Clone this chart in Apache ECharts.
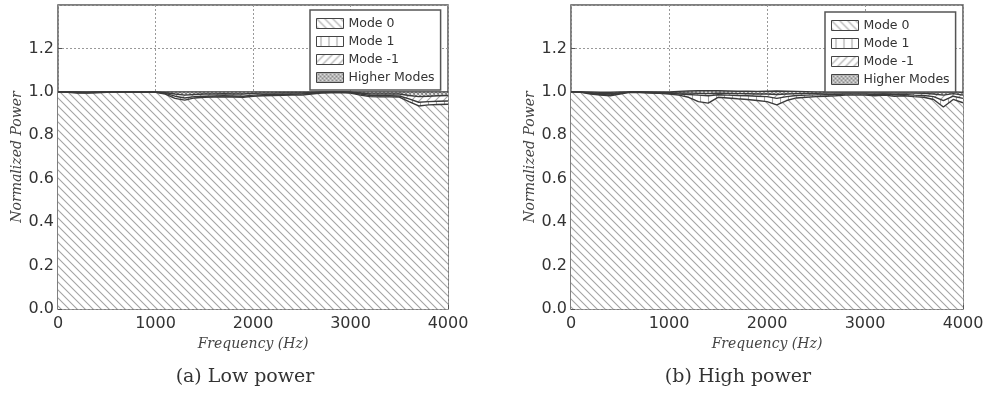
<!DOCTYPE html>
<html><head><meta charset="utf-8">
<script src="https://cdn.jsdelivr.net/npm/echarts@6/dist/echarts.min.js"></script>
<style>html,body{margin:0;padding:0;background:#fff}#c{width:987px;height:406px}</style>
</head><body><div id="c"></div>
<script>
// ---- data ----
const freq = [0,100,200,300,400,500,600,700,800,900,1000,1100,1200,1300,1400,1500,1600,1700,1800,1900,2000,2100,2200,2300,2400,2500,2600,2700,2800,2900,3000,3100,3200,3300,3400,3500,3600,3700,3800,3900,4000];
const seriesNames = ['Mode 0','Mode 1','Mode -1','Higher Modes'];
const xTicks = [0,1000,2000,3000,4000];
const yTicks = [0.0,0.2,0.4,0.6,0.8,1.0,1.2];
const captions = ['(a) Low power','(b) High power'];

// Low power
const lowMode0 = [1.0,0.998,0.995,0.994,0.996,0.998,1.0,0.999,0.998,0.998,0.998,0.99,0.97,0.962,0.972,0.975,0.976,0.977,0.976,0.975,0.98,0.982,0.983,0.984,0.985,0.985,0.99,0.995,0.996,0.997,0.995,0.985,0.978,0.977,0.977,0.976,0.955,0.935,0.94,0.942,0.943];
const lowMode1 = [0,0.001,0.002,0.002,0.002,0.001,0,0.001,0.001,0.001,0.001,0.003,0.010,0.010,0.006,0.005,0.005,0.005,0.005,0.005,0.005,0.005,0.005,0.004,0.004,0.005,0.003,0.002,0.002,0.001,0.002,0.005,0.005,0.005,0.005,0.005,0.013,0.017,0.015,0.015,0.015];
const lowModeM1 = [0,0.001,0.002,0.002,0.001,0.001,0,0,0.001,0.001,0.001,0.003,0.010,0.013,0.010,0.010,0.009,0.009,0.009,0.010,0.008,0.007,0.006,0.007,0.006,0.005,0.004,0.002,0.001,0.001,0.002,0.005,0.007,0.008,0.008,0.009,0.015,0.026,0.025,0.025,0.025];
const lowHigher = [0,0,0.001,0.002,0.001,0,0,0,0,0,0,0.004,0.010,0.015,0.012,0.010,0.010,0.009,0.010,0.010,0.007,0.006,0.006,0.005,0.005,0.005,0.003,0.001,0.001,0.001,0.001,0.005,0.010,0.010,0.010,0.010,0.017,0.022,0.020,0.018,0.017];

// High power
const highMode0 = [1.0,0.998,0.99,0.985,0.982,0.99,0.998,0.997,0.995,0.993,0.99,0.985,0.975,0.955,0.948,0.975,0.972,0.968,0.965,0.96,0.955,0.94,0.96,0.972,0.975,0.978,0.98,0.982,0.985,0.985,0.985,0.982,0.985,0.98,0.982,0.978,0.975,0.965,0.93,0.965,0.95];
const highMode1 = [0,0.001,0.003,0.003,0.004,0.003,0.001,0.001,0.002,0.002,0.003,0.005,0.013,0.030,0.034,0.012,0.013,0.015,0.017,0.020,0.023,0.030,0.018,0.011,0.010,0.008,0.007,0.006,0.005,0.005,0.005,0.006,0.005,0.007,0.006,0.007,0.008,0.013,0.030,0.015,0.020];
const highModeM1 = [0,0.001,0.003,0.004,0.005,0.003,0.001,0.001,0.001,0.002,0.003,0.005,0.006,0.008,0.010,0.007,0.008,0.009,0.009,0.010,0.012,0.018,0.012,0.009,0.008,0.007,0.007,0.007,0.006,0.006,0.006,0.007,0.006,0.007,0.007,0.009,0.010,0.012,0.025,0.012,0.015];
const highHigher = [0,0,0.003,0.006,0.007,0.004,0,0.001,0.002,0.003,0.004,0.007,0.010,0.012,0.013,0.011,0.011,0.011,0.012,0.012,0.013,0.016,0.013,0.010,0.008,0.007,0.006,0.005,0.004,0.004,0.004,0.005,0.004,0.006,0.005,0.006,0.007,0.010,0.014,0.008,0.013];

// ---- hatch patterns ----
function makePattern(kind){
  const s = kind === 'x' ? 4 : 8;
  const c = document.createElement('canvas');
  c.width = s; c.height = s;
  const g = c.getContext('2d');
  g.fillStyle = '#fff'; g.fillRect(0,0,s,s);
  g.strokeStyle = kind === 'x' ? '#888' : '#a4a4a4';
  g.lineWidth = 1.1;
  g.beginPath();
  if (kind === '\\' || kind === 'x') {
    g.moveTo(-1,-1); g.lineTo(s+1,s+1);
    g.moveTo(-1,s-1); g.lineTo(1,s+1);
    g.moveTo(s-1,-1); g.lineTo(s+1,1);
  }
  if (kind === '/' || kind === 'x') {
    g.moveTo(-1,s+1); g.lineTo(s+1,-1);
    g.moveTo(-1,1); g.lineTo(1,-1);
    g.moveTo(s-1,s+1); g.lineTo(s+1,s-1);
  }
  if (kind === '|') {
    g.moveTo(s/2+0.5,0); g.lineTo(s/2+0.5,s);
  }
  g.stroke();
  return {image: c, repeat: 'repeat'};
}
const patterns = [makePattern('\\'), makePattern('|'), makePattern('/'), makePattern('x')];

const lowData = [lowMode0, lowMode1, lowModeM1, lowHigher];
const highData = [highMode0, highMode1, highModeM1, highHigher];

const grids = [
  {left:58, right:539, top:5, bottom:97},
  {left:571, right:24, top:5, bottom:97}
];
const tickFont = {fontFamily:'DejaVu Sans', fontSize:16, color:'#333'};
const nameFont = {fontFamily:'DejaVu Serif', fontStyle:'italic', fontSize:14, color:'#444'};
const isTick = (idx, val) => xTicks.indexOf(Number(val)) >= 0;

function xAx(i){
  return {type:'category', gridIndex:i, data:freq.map(String), boundaryGap:false,
    name:'Frequency (Hz)', nameLocation:'middle', nameGap:20, nameTextStyle:nameFont,
    axisLine:{show:false},
    axisTick:{show:true, inside:true, length:4, interval:isTick, lineStyle:{color:'#555'}},
    axisLabel:Object.assign({margin:7, interval:isTick, showMaxLabel:true}, tickFont),
    splitLine:{show:true, interval:isTick, lineStyle:{color:'#999', type:[2,2], width:1}}};
}
function yAx(i){
  return {type:'value', gridIndex:i, min:0, max:1.4, interval:0.2,
    name:'Normalized Power', nameLocation:'middle', nameGap:33, nameTextStyle:nameFont,
    axisLine:{show:false}, axisTick:{show:true, inside:true, length:4, lineStyle:{color:'#555'}},
    axisLabel:Object.assign({margin:4, showMaxLabel:false, formatter:v=>v.toFixed(1)}, tickFont),
    splitLine:{show:true, lineStyle:{color:'#999', type:[2,2], width:1}}};
}

const series = [];
[lowData, highData].forEach((set, gi) => {
  set.forEach((vals, k) => {
    series.push({
      type:'line', name:seriesNames[k], xAxisIndex:gi, yAxisIndex:gi, stack:'s'+gi,
      data: vals,
      showSymbol:false, symbol:'none', smooth:false,
      lineStyle:{color:'#3a3a3a', width:1.4},
      itemStyle:{color:'#3a3a3a'},
      areaStyle:{color:patterns[k], opacity:1},
      z: 2, silent:true, animation:false
    });
  });
});

const legendData = seriesNames.map((n,k)=>({name:n, icon:'rect',
  itemStyle:{color:patterns[k], borderColor:'#444', borderWidth:1}}));
function legend(left, top){
  return {show:true, left:left, top:top, orient:'vertical', data:legendData,
    itemWidth:27, itemHeight:10, itemGap:5, padding:[7,6,6,6],
    backgroundColor:'#fff', borderColor:'#555', borderWidth:1.5,
    textStyle:{fontFamily:'DejaVu Sans', fontSize:12.5, color:'#333'},
    selectedMode:false};
}

const chart = echarts.init(document.getElementById('c'), null, {renderer:'canvas'});
chart.setOption({
  animation:false,
  backgroundColor:'#fff',
  grid: grids.map(g=>Object.assign({show:true, borderColor:'#555', borderWidth:1.5, backgroundColor:'transparent', containLabel:false}, g)),
  xAxis:[xAx(0), xAx(1)],
  yAxis:[yAx(0), yAx(1)],
  legend:[legend(310,10), legend(825,12)],
  series: series,
  graphic:[
    {type:'text', silent:true, x:245, y:377,
     style:{text:captions[0], align:'center', verticalAlign:'middle', font:'19px "DejaVu Serif"', fill:'#333'}},
    {type:'text', silent:true, x:738, y:377,
     style:{text:captions[1], align:'center', verticalAlign:'middle', font:'19px "DejaVu Serif"', fill:'#333'}}
  ]
});
</script></body></html>
